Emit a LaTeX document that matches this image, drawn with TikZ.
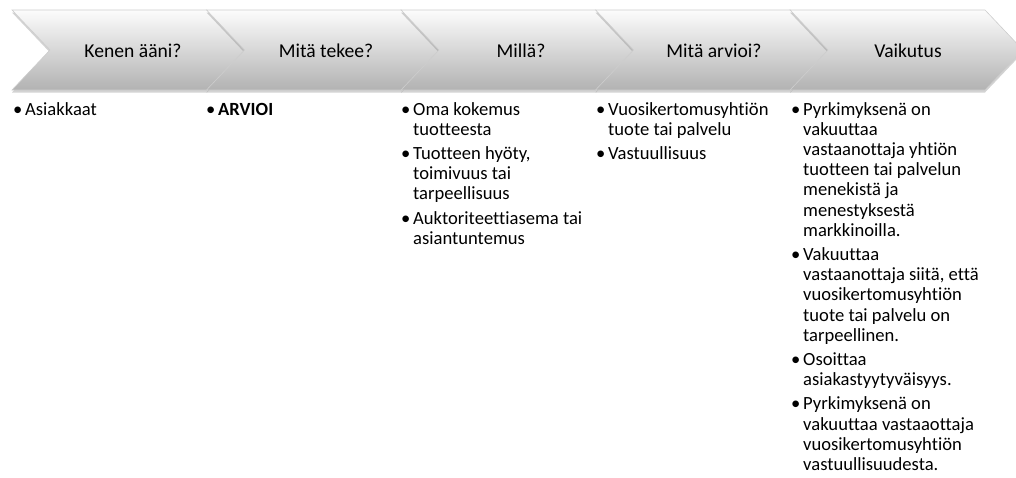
\documentclass[tikz,border=0pt]{standalone}
\usepackage{fontspec}
\setmainfont{Carlito}[Ligatures=NoCommon]
\usepackage{tikz}
\usepackage{xcolor}
\usetikzlibrary{shadows, calc}
\definecolor{cEdge}{RGB}{205,205,205}
\definecolor{cTop}{RGB}{252,252,252}
\definecolor{cMid}{RGB}{236,236,236}
\definecolor{cBot}{RGB}{178,178,178}
\tikzset{
	chevron/.style={draw=cEdge, line width=0.6pt, top color=cTop, middle color=cMid, bottom color=cBot,
		drop shadow={opacity=0.35, shadow xshift=0pt, shadow yshift=-2.5pt}},
	ttl/.style={anchor=base, inner sep=0pt, font=\fontsize{19.6}{22}\selectfont},
	lst/.style={anchor=base west, inner sep=0pt, align=left, font=\fontsize{18.6}{20.2}\selectfont},
}
\newcommand{\bl}{\textbullet}

\begin{document}
\begin{tikzpicture}[x=1pt, y=-1pt]
	\useasboundingbox (0,0) rectangle (1016,477);
	% chevrons
	\foreach \i in {0,...,4} {
		\pgfmathsetmacro{\xa}{12+194.5*\i}
		\draw[chevron] (\xa,10) -- ++(195,0) -- ++(38,40) -- ++(-38,40) -- ++(-195,0) -- ++(38,-40) -- cycle;
	}
	% titles
	\node[ttl] (t1) at (133,57) {Kenen ääni?};
	\node[ttl] (t2) at (326,57) {Mitä tekee?};
	\node[ttl] (t3) at (521,57) {Millä?};
	\node[ttl] (t4) at (714,57) {Mitä arvioi?};
	\node[ttl] (t5) at (908,57) {Vaikutus};
	% lists
	\node[lst] (l1) at (13,115) {\begin{tabular}[t]{@{}p{12pt}@{}l@{}}
		\bl & Asiakkaat
	\end{tabular}};
	\node[lst] (l2) at (206,115) {\begin{tabular}[t]{@{}p{12pt}@{}l@{}}
		\bl & \textbf{ARVIOI}
	\end{tabular}};
	\node[lst] (l3) at (401,115) {\begin{tabular}[t]{@{}p{12pt}@{}l@{}}
		\bl & Oma kokemus\\
		    & tuotteesta\\[4pt]
		\bl & Tuotteen hyöty,\\
		    & toimivuus tai\\
		    & tarpeellisuus\\[4pt]
		\bl & Auktoriteettiasema tai\\
		    & asiantuntemus
	\end{tabular}};
	\node[lst] (l4) at (596,115) {\begin{tabular}[t]{@{}p{12pt}@{}l@{}}
		\bl & Vuosikertomusyhtiön\\
		    & tuote tai palvelu\\[4pt]
		\bl & Vastuullisuus
	\end{tabular}};
	\node[lst] (l5) at (791,115) {\begin{tabular}[t]{@{}p{12pt}@{}l@{}}
		\bl & Pyrkimyksenä on\\
		    & vakuuttaa\\
		    & vastaanottaja yhtiön\\
		    & tuotteen tai palvelun\\
		    & menekistä ja\\
		    & menestyksestä\\
		    & markkinoilla.\\[4pt]
		\bl & Vakuuttaa\\
		    & vastaanottaja siitä, että\\
		    & vuosikertomusyhtiön\\
		    & tuote tai palvelu on\\
		    & tarpeellinen.\\[4pt]
		\bl & Osoittaa\\
		    & asiakastyytyväisyys.\\[4pt]
		\bl & Pyrkimyksenä on\\
		    & vakuuttaa vastaaottaja\\
		    & vuosikertomusyhtiön\\
		    & vastuullisuudesta.
	\end{tabular}};
\end{tikzpicture}
\end{document}
